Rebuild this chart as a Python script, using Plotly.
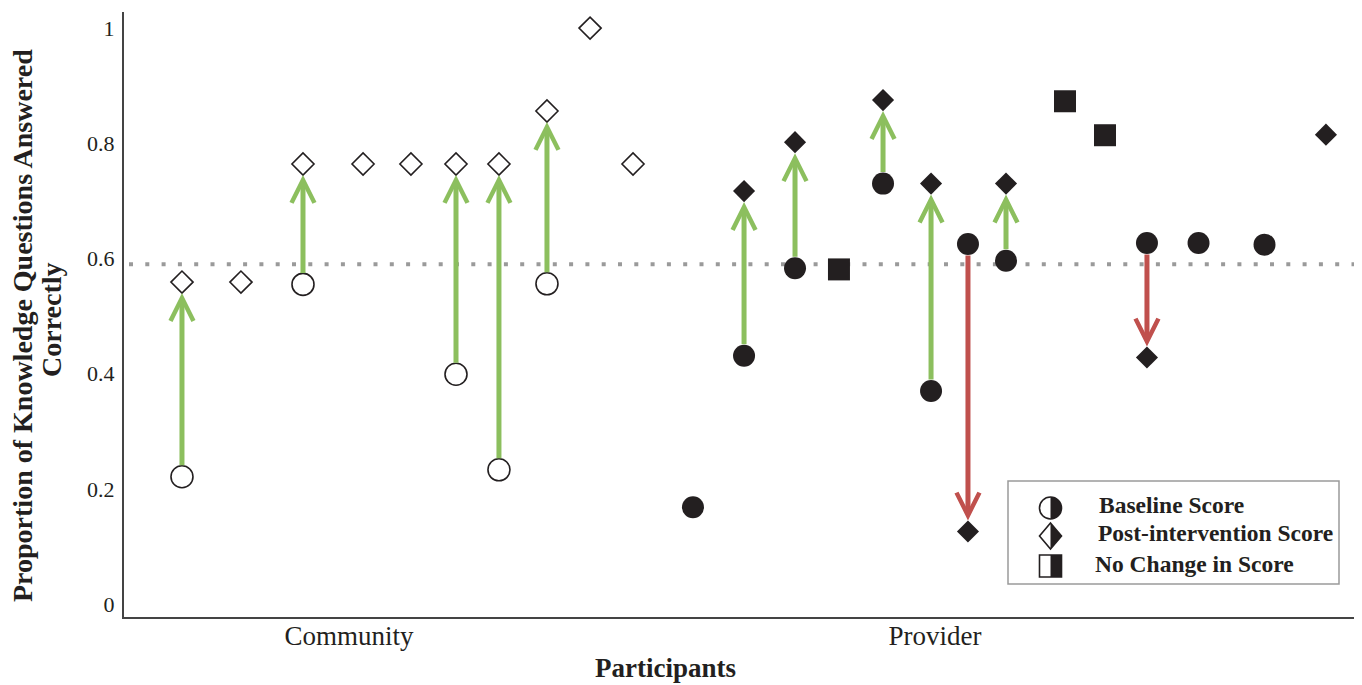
import numpy as np
import plotly.graph_objects as go

# ---------------- data ----------------
community_x = [4.71, 9.50, 14.54, 19.42, 23.31, 26.97, 30.46, 34.36, 37.86, 41.35]
community_base = [0.221, None, 0.555, None, None, 0.399, 0.233, 0.556, None, None]
community_post = [0.559, 0.559, 0.764, 0.764, 0.764, 0.764, 0.764, 0.856, 1.0, 0.764]

provider_x = [46.22, 50.37, 54.51, 58.08, 61.66, 65.56, 68.56, 71.65, 76.44, 79.69, 83.10, 87.29, 92.65, 97.64]
provider_base = [0.168, 0.431, 0.583, None, 0.730, 0.370, 0.625, 0.596, None, None, 0.627, 0.627, 0.624, None]
provider_post = [None, 0.717, 0.802, None, 0.875, 0.730, 0.126, 0.730, None, None, 0.428, None, None, 0.815]
provider_nochange = [None, None, None, 0.581, None, None, None, None, 0.873, 0.814, None, None, None, None]

reference_line = 0.59

group_tick_pos = [18.28, 65.88]
group_tick_text = ["Community", "Provider"]
y_tick_vals = [0, 0.2, 0.4, 0.6, 0.8, 1.0]
y_tick_text = ["0", "0.2", "0.4", "0.6", "0.8", "1"]

legend_labels = ["Baseline Score", "Post-intervention Score", "No Change in Score"]

# ---------------- style ----------------
OFF = 8  # page body margin of the browser
W, H = 1362 - OFF, 685 - OFF
ML, MR, MT, MB = 124 - OFF, 7, 12 - OFF, 68
PW, PH = W - ML - MR, H - MT - MB
BLACK = "#231F20"
GREEN = "#8CBF5E"
RED = "#C0504D"
FONT = "Liberation Serif"


def px(xp):
    return (xp - OFF - ML) / PW


def py(yp):
    return (H - MB - (yp - OFF)) / PH


fig = go.Figure()

# community baseline (open circles)
fig.add_trace(go.Scatter(
    x=community_x, y=community_base, mode="markers",
    marker=dict(symbol="circle", size=22, color="white", line=dict(color=BLACK, width=1.6)),
    showlegend=False, hoverinfo="skip"))
# community post (open diamonds)
fig.add_trace(go.Scatter(
    x=community_x, y=community_post, mode="markers",
    marker=dict(symbol="diamond", size=17, color="white", line=dict(color=BLACK, width=1.6)),
    showlegend=False, hoverinfo="skip"))
# provider baseline (filled circles)
fig.add_trace(go.Scatter(
    x=provider_x, y=provider_base, mode="markers",
    marker=dict(symbol="circle", size=22, color=BLACK, line=dict(width=0)),
    showlegend=False, hoverinfo="skip"))
# provider post (filled diamonds)
fig.add_trace(go.Scatter(
    x=provider_x, y=provider_post, mode="markers",
    marker=dict(symbol="diamond", size=17, color=BLACK, line=dict(width=0)),
    showlegend=False, hoverinfo="skip"))
# provider no change (filled squares)
fig.add_trace(go.Scatter(
    x=provider_x, y=provider_nochange, mode="markers",
    marker=dict(symbol="square", size=22, color=BLACK, line=dict(width=0)),
    showlegend=False, hoverinfo="skip"))

annotations = []
# arrows from baseline to post-intervention
for xs, bs, ps in [(community_x, community_base, community_post),
                   (provider_x, provider_base, provider_post)]:
    for xv, b, p in zip(xs, bs, ps):
        if b is None or p is None:
            continue
        col = GREEN if p > b else RED
        annotations.append(dict(
            x=xv, y=p, ax=xv, ay=b, xref="x", yref="y", axref="x", ayref="y",
            text="", showarrow=True, arrowhead=5, arrowsize=0.9, arrowwidth=5,
            arrowcolor=col, standoff=11, startstandoff=10))

# axis titles as annotations
annotations.append(dict(
    x=px(22), y=py(326), xref="paper", yref="paper", xanchor="center", yanchor="middle",
    text="<b>Proportion of Knowledge Questions Answered</b>", textangle=-90, showarrow=False,
    font=dict(family=FONT, size=28, color=BLACK)))
annotations.append(dict(
    x=px(52), y=py(320), xref="paper", yref="paper", xanchor="center", yanchor="middle",
    text="<b>Correctly</b>", textangle=-90, showarrow=False,
    font=dict(family=FONT, size=28, color=BLACK)))
annotations.append(dict(
    x=px(665), y=py(668), xref="paper", yref="paper", xanchor="center", yanchor="middle",
    text="<b>Participants</b>", showarrow=False,
    font=dict(family=FONT, size=27, color=BLACK)))

# legend texts
legend_text_pos = [(1097, 505), (1096, 533), (1093, 564)]
for lbl, (lx, ly) in zip(legend_labels, legend_text_pos):
    annotations.append(dict(
        x=px(lx), y=py(ly), xref="paper", yref="paper", xanchor="left", yanchor="middle",
        text="<b>" + lbl + "</b>", showarrow=False,
        font=dict(family=FONT, size=23.5, color=BLACK)))

shapes = []
# reference dotted line
shapes.append(dict(type="line", xref="paper", yref="y", x0=px(129), x1=1, y0=reference_line, y1=reference_line,
                   line=dict(color="#9A9A9A", width=4, dash="4px,12.3px"), layer="below"))

# legend box
shapes.append(dict(type="rect", xref="paper", yref="paper", x0=px(1008), x1=px(1339), y0=py(481), y1=py(584),
                   line=dict(color="#9A9A9A", width=1.5), fillcolor="white"))


def poly_path(points):
    s = "M " + " L ".join(f"{px(a):.5f},{py(b):.5f}" for a, b in points) + " Z"
    return s


# half-filled circle
cx, cy, r = 1050.5, 508, 11
ang = np.linspace(-np.pi / 2, np.pi / 2, 40)
half = [(cx + r * np.cos(t), cy + r * np.sin(t)) for t in ang]
shapes.append(dict(type="path", xref="paper", yref="paper", path=poly_path(half),
                   fillcolor=BLACK, line=dict(width=0)))
shapes.append(dict(type="circle", xref="paper", yref="paper", x0=px(cx - r), x1=px(cx + r),
                   y0=py(cy - r), y1=py(cy + r), line=dict(color=BLACK, width=1.6)))
# half-filled diamond
dx, dy, hw, hh = 1050.5, 536, 11, 13
shapes.append(dict(type="path", xref="paper", yref="paper",
                   path=poly_path([(dx, dy - hh), (dx + hw, dy), (dx, dy + hh)]),
                   fillcolor=BLACK, line=dict(width=0)))
shapes.append(dict(type="path", xref="paper", yref="paper",
                   path=poly_path([(dx, dy - hh), (dx + hw, dy), (dx, dy + hh), (dx - hw, dy)]),
                   line=dict(color=BLACK, width=1.6)))
# half-filled square
sx, sy, sh = 1050.5, 566, 11
shapes.append(dict(type="rect", xref="paper", yref="paper", x0=px(sx), x1=px(sx + sh),
                   y0=py(sy - sh), y1=py(sy + sh), fillcolor=BLACK, line=dict(width=0)))
shapes.append(dict(type="rect", xref="paper", yref="paper", x0=px(sx - sh), x1=px(sx + sh),
                   y0=py(sy - sh), y1=py(sy + sh), line=dict(color=BLACK, width=1.6)))

fig.update_layout(
    width=W, height=H,
    margin=dict(l=ML, r=MR, t=MT, b=MB),
    paper_bgcolor="white", plot_bgcolor="white",
    showlegend=False,
    annotations=annotations,
    shapes=shapes,
    xaxis=dict(range=[0, 100], showgrid=False, zeroline=False, showline=True,
               linecolor="#444444", linewidth=2,
               tickmode="array", tickvals=group_tick_pos, ticktext=group_tick_text,
               ticks="", ticklabelstandoff=-6,
               tickfont=dict(family=FONT, size=27, color=BLACK)),
    yaxis=dict(range=[-0.0226, 1.028], showgrid=False, zeroline=False, showline=True,
               linecolor="#444444", linewidth=2,
               tickmode="array", tickvals=y_tick_vals, ticktext=y_tick_text,
               ticks="outside", ticklen=3, tickcolor="rgba(0,0,0,0)",
               tickfont=dict(family=FONT, size=22, color=BLACK)),
)

fig.write_html("out.html")
